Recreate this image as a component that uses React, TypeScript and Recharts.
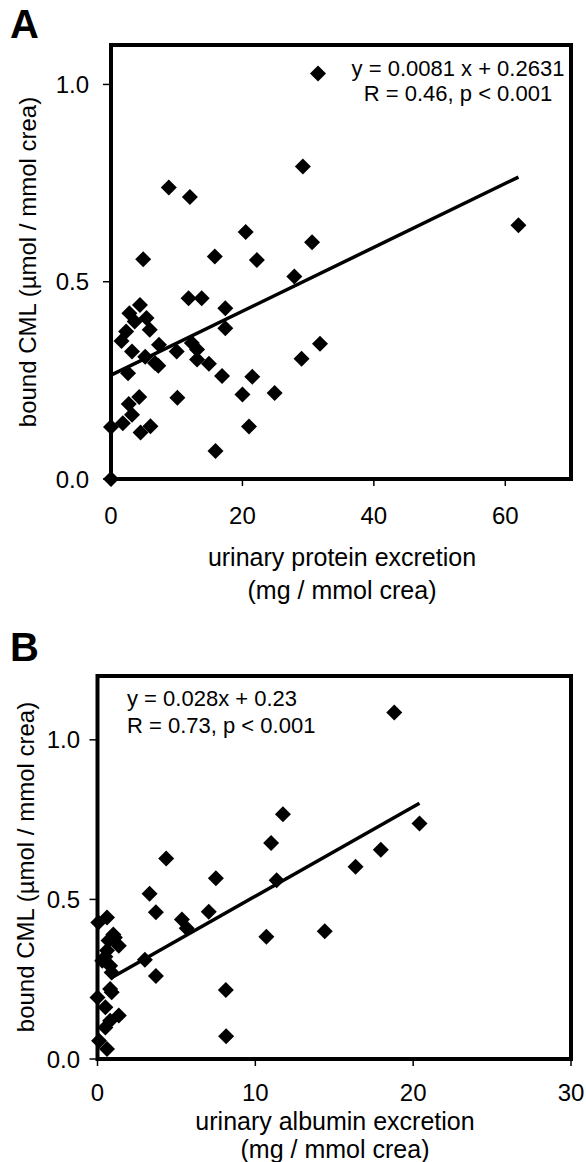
import React from 'react';
import { ScatterChart, Scatter, XAxis, YAxis, ReferenceArea } from 'recharts';

const FONT = '"Liberation Sans", Arial, Helvetica, sans-serif';

// panel A: urinary protein excretion vs bound CML
const proteinX = [31.5, 29.2, 8.8, 12.0, 62.0, 20.5, 30.6, 4.9, 15.8, 22.2, 27.9, 11.8, 13.8, 4.4, 17.4, 2.8, 5.4, 3.6, 2.3, 5.9, 17.4, 1.6, 3.2, 7.3, 5.2, 6.7, 7.2, 2.6, 10.0, 12.3, 13.1, 13.1, 14.9, 16.9, 21.5, 20.0, 24.9, 10.1, 4.3, 2.7, 3.2, 1.8, 4.5, 6.0, 0, 15.9, 21.0, 29.0, 31.8, 0];
const proteinCml = [1.028, 0.792, 0.739, 0.715, 0.643, 0.626, 0.6, 0.557, 0.564, 0.555, 0.513, 0.458, 0.458, 0.441, 0.433, 0.42, 0.408, 0.399, 0.374, 0.378, 0.382, 0.35, 0.323, 0.34, 0.31, 0.294, 0.287, 0.268, 0.323, 0.345, 0.328, 0.303, 0.292, 0.261, 0.259, 0.214, 0.218, 0.206, 0.208, 0.19, 0.163, 0.141, 0.118, 0.134, 0.132, 0.071, 0.133, 0.305, 0.343, 0.0];
const fitA = { slope: 0.0081, intercept: 0.2631, from: 0, to: 62 };

// panel B: urinary albumin excretion vs bound CML
const albuminX = [0.6, 0.05, 1.1, 0.7, 1.35, 0.6, 0.3, 0.8, 0.9, 0.8, 0.0, 0.9, 0.5, 1.35, 0.8, 0.5, 0.1, 0.6, 1.0, 0.5, 3.0, 3.7, 3.3, 3.7, 4.35, 5.35, 5.65, 7.05, 7.5, 8.13, 8.15, 10.7, 11.0, 11.35, 11.75, 14.4, 16.35, 17.95, 18.8, 20.4];
const albuminCml = [0.443, 0.428, 0.381, 0.371, 0.355, 0.34, 0.308, 0.292, 0.271, 0.219, 0.193, 0.209, 0.162, 0.136, 0.12, 0.099, 0.057, 0.031, 0.39, 0.32, 0.311, 0.26, 0.518, 0.46, 0.628, 0.437, 0.41, 0.461, 0.566, 0.216, 0.071, 0.383, 0.677, 0.56, 0.767, 0.4, 0.602, 0.656, 1.086, 0.738];
const fitB = { slope: 0.028, intercept: 0.23, from: 0.8, to: 20.4 };

const ticksA = [0, 20, 40, 60];
const ticksB = [0, 10, 20, 30];
const yTicks = [0, 0.5, 1.0];

const toPoints = (xs: number[], ys: number[]) => xs.map((x, i) => ({ x, y: ys[i] }));
const fitLine = (f: { slope: number; intercept: number; from: number; to: number }) =>
  [f.from, f.to].map((x) => ({ x, y: f.slope * x + f.intercept }));

const Diamond = (props: any) => {
  const { cx, cy } = props;
  if (cx == null || cy == null) return null;
  const r = 8;
  return <path d={`M${cx},${cy - r}L${cx + r},${cy}L${cx},${cy + r}L${cx - r},${cy}Z`} fill="#000" />;
};

const tickStyle = { fill: '#000', fontSize: 24, fontFamily: FONT };

function Panel(props: {
  width: number; height: number; top: number; left: number; right: number;
  yAxisWidth: number; xAxisHeight: number; xMax: number; yMax: number;
  xTicks: number[]; xTickMargin: number; yTickMargin: number;
  points: { x: number; y: number }[]; fit: { x: number; y: number }[];
}) {
  const p = props;
  return (
    <ScatterChart width={p.width} height={p.height} margin={{ top: p.top, right: p.right, bottom: 0, left: p.left }}>
      <XAxis
        type="number" dataKey="x" domain={[0, p.xMax]} ticks={p.xTicks} interval={0}
        axisLine={false} tickLine={{ stroke: '#000', strokeWidth: 1.5 }} tickSize={7}
        tickMargin={p.xTickMargin} height={p.xAxisHeight} tick={tickStyle}
      />
      <YAxis
        type="number" dataKey="y" domain={[0, p.yMax]} ticks={yTicks} interval={0}
        axisLine={false} tickLine={{ stroke: '#000', strokeWidth: 1.5 }} tickSize={8}
        tickMargin={p.yTickMargin} width={p.yAxisWidth} tick={tickStyle}
        tickFormatter={(v: number) => v.toFixed(1)}
      />
      <ReferenceArea x1={0} x2={p.xMax} y1={0} y2={p.yMax} fill="none" fillOpacity={0} stroke="#000" strokeWidth={4} />
      <Scatter data={p.fit} line={{ stroke: '#000', strokeWidth: 3.5 }} shape={() => null} isAnimationActive={false} />
      <Scatter data={p.points} shape={Diamond} isAnimationActive={false} />
    </ScatterChart>
  );
}

export default function App() {
  const text = { fontFamily: FONT, fill: '#000' };
  return (
    <div style={{ position: 'absolute', left: 0, top: 0, width: 586, height: 1162, background: '#fff' }}>
      <div style={{ position: 'absolute', left: 0, top: 0 }}>
        <Panel
          width={586} height={600} top={45} left={0} right={15}
          yAxisWidth={111} xAxisHeight={121} xMax={70} yMax={1.1}
          xTicks={ticksA} xTickMargin={21} yTickMargin={14}
          points={toPoints(proteinX, proteinCml)} fit={fitLine(fitA)}
        />
      </div>
      <div style={{ position: 'absolute', left: 0, top: 600 }}>
        <Panel
          width={586} height={562} top={76} left={0} right={15}
          yAxisWidth={97.5} xAxisHeight={103} xMax={30} yMax={1.2}
          xTicks={ticksB} xTickMargin={18} yTickMargin={9.5}
          points={toPoints(albuminX, albuminCml)} fit={fitLine(fitB)}
        />
      </div>
      <svg width={586} height={1162} style={{ position: 'absolute', left: 0, top: 0, pointerEvents: 'none' }}>
        <text x={10} y={38} fontSize={40} fontWeight="bold" {...text}>A</text>
        <text x={10} y={661} fontSize={40} fontWeight="bold" {...text}>B</text>

        <text x={458} y={68} fontSize={22} textAnchor="middle" dominantBaseline="central" {...text}>y = 0.0081 x + 0.2631</text>
        <text x={458} y={93} fontSize={22} textAnchor="middle" dominantBaseline="central" {...text}>R = 0.46, p &lt; 0.001</text>
        <text x={127} y={698} fontSize={22} dominantBaseline="central" {...text}>y = 0.028x + 0.23</text>
        <text x={127} y={725} fontSize={22} dominantBaseline="central" {...text}>R = 0.73, p &lt; 0.001</text>

        <text x={342} y={557} fontSize={25} textAnchor="middle" dominantBaseline="central" {...text}>urinary protein excretion</text>
        <text x={342} y={590} fontSize={25} textAnchor="middle" dominantBaseline="central" {...text}>(mg / mmol crea)</text>
        <text x={335} y={1121} fontSize={25} textAnchor="middle" dominantBaseline="central" {...text}>urinary albumin excretion</text>
        <text x={335} y={1149} fontSize={25} textAnchor="middle" dominantBaseline="central" {...text}>(mg / mmol crea)</text>

        <text transform="translate(27,262) rotate(-90)" fontSize={24} textAnchor="middle" dominantBaseline="central" {...text}>bound CML (µmol / mmol crea)</text>
        <text transform="translate(25,867) rotate(-90)" fontSize={24} textAnchor="middle" dominantBaseline="central" {...text}>bound CML (µmol / mmol crea)</text>
      </svg>
    </div>
  );
}
